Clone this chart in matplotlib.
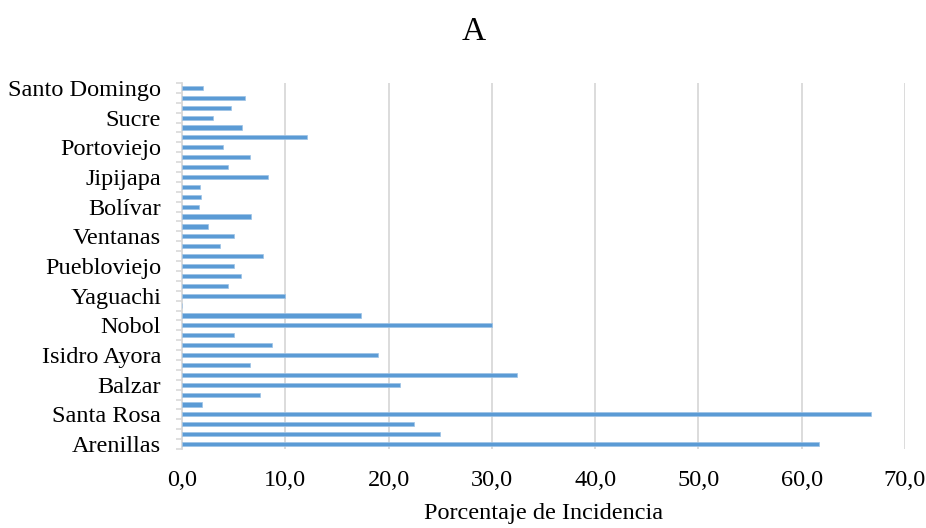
import matplotlib
matplotlib.use("Agg")
import matplotlib.pyplot as plt
import numpy as np

# Category labels shown on the axis (every third category, bottom to top)
shown_labels = ["Arenillas", "Santa Rosa", "Balzar", "Isidro Ayora", "Nobol",
                "Yaguachi", "Puebloviejo", "Ventanas", "Bolívar", "Jipijapa",
                "Portoviejo", "Sucre", "Santo Domingo"]

# Incidence (%) for each of the 37 categories, bottom to top
values = [61.7, 25.0, 22.5, 66.7, 1.9, 7.6, 21.1, 32.4, 6.6, 19.0,
          8.7, 5.0, 30.0, 17.3, 0.0, 10.0, 4.5, 5.7, 5.0, 7.8,
          3.7, 5.0, 2.5, 6.7, 1.65, 1.85, 1.7, 8.3, 4.5, 6.6,
          3.95, 12.1, 5.8, 3.0, 4.7, 6.15, 2.0]

x_ticks = [0, 10, 20, 30, 40, 50, 60, 70]
x_tick_labels = ["0,0", "10,0", "20,0", "30,0", "40,0", "50,0", "60,0", "70,0"]

plt.rcParams['font.family'] = ['Liberation Serif', 'DejaVu Serif']

fig = plt.figure(figsize=(9.26, 5.28), dpi=100)
ax = fig.add_axes([0.1965, 0.1496, 0.9773 - 0.1965, 0.8428 - 0.1496])

pos = np.arange(len(values))
ax.barh(pos, values, height=0.42, color="#5B9BD5", edgecolor="#9DC3E6",
        linewidth=0.5, zorder=3)

ax.set_xlim(0, 70)
ax.set_ylim(-0.5, len(values) - 0.5)

ax.set_xticks(x_ticks)
ax.set_xticklabels(x_tick_labels, fontsize=17.5)
ax.tick_params(axis='x', length=0, pad=15)

label_pos = pos[::3]
ax.set_yticks(label_pos)
ax.set_yticklabels(shown_labels, fontsize=17.5)
ax.tick_params(axis='y', which='major', length=0, pad=15)
ax.set_yticks(np.arange(-0.5, len(values), 1.0), minor=True)
ax.tick_params(axis='y', which='minor', length=4, width=1.2, color="#D9D9D9")

ax.grid(axis='x', color="#D9D9D9", linewidth=1.3, zorder=0)
for s in ['top', 'right', 'bottom']:
    ax.spines[s].set_visible(False)
ax.spines['left'].set_color("#D9D9D9")
ax.spines['left'].set_linewidth(1.3)

ax.set_xlabel("Porcentaje de Incidencia", fontsize=17.5, labelpad=9)
fig.text(0.512, 0.94, "A", fontsize=24, ha='center', va='center')

fig.savefig("out.png", dpi=100)
